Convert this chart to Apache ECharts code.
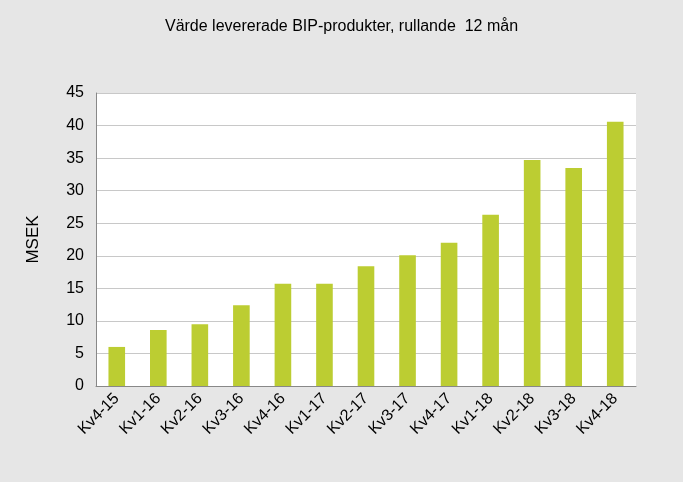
<!DOCTYPE html>
<html>
<head>
<meta charset="utf-8">
<script src="https://cdn.jsdelivr.net/npm/echarts@6/dist/echarts.min.js"></script>
<style>html,body{margin:0;padding:0;background:#e6e6e6}#c{width:683px;height:482px}</style>
</head>
<body>
<div id="c"></div>
<script>
// kvartal och värden (MSEK)
var categories = ['Kv4-15', 'Kv1-16', 'Kv2-16', 'Kv3-16', 'Kv4-16', 'Kv1-17', 'Kv2-17', 'Kv3-17', 'Kv4-17', 'Kv1-18', 'Kv2-18', 'Kv3-18', 'Kv4-18'];
var values = [6.0, 8.6, 9.5, 12.4, 15.7, 15.7, 18.4, 20.1, 22.0, 26.3, 34.7, 33.5, 40.6];

var chart = echarts.init(document.getElementById('c'));
chart.setOption({
	backgroundColor: '#e6e6e6',
	animation: false,
	title: {
		text: 'Värde levererade BIP-produkter, rullande  12 mån',
		left: 'center',
		top: 14,
		textStyle: { color: '#000', fontWeight: 'normal', fontSize: 16, fontFamily: 'Liberation Sans' }
	},
	grid: {
		left: 96, right: 47, top: 93, bottom: 96,
		show: true, backgroundColor: '#fff', borderWidth: 0
	},
	xAxis: {
		type: 'category',
		data: categories,
		axisLine: { lineStyle: { color: '#888' } },
		axisTick: { show: false },
		axisLabel: { rotate: 45, color: '#000', fontSize: 16, fontFamily: 'Liberation Sans', margin: 10 }
	},
	yAxis: {
		type: 'value',
		min: 0, max: 45, interval: 5,
		name: 'MSEK',
		nameLocation: 'middle',
		nameGap: 54,
		nameTextStyle: { color: '#000', fontSize: 17, fontFamily: 'Liberation Sans' },
		axisLine: { show: true, lineStyle: { color: '#888' } },
		axisLabel: { color: '#000', fontSize: 16, fontFamily: 'Liberation Sans', margin: 12 },
		splitLine: { lineStyle: { color: '#c8c8c8' } }
	},
	series: [{
		type: 'bar',
		data: values,
		barWidth: '40%',
		itemStyle: { color: '#bccd32' }
	}]
});
</script>
</body>
</html>
